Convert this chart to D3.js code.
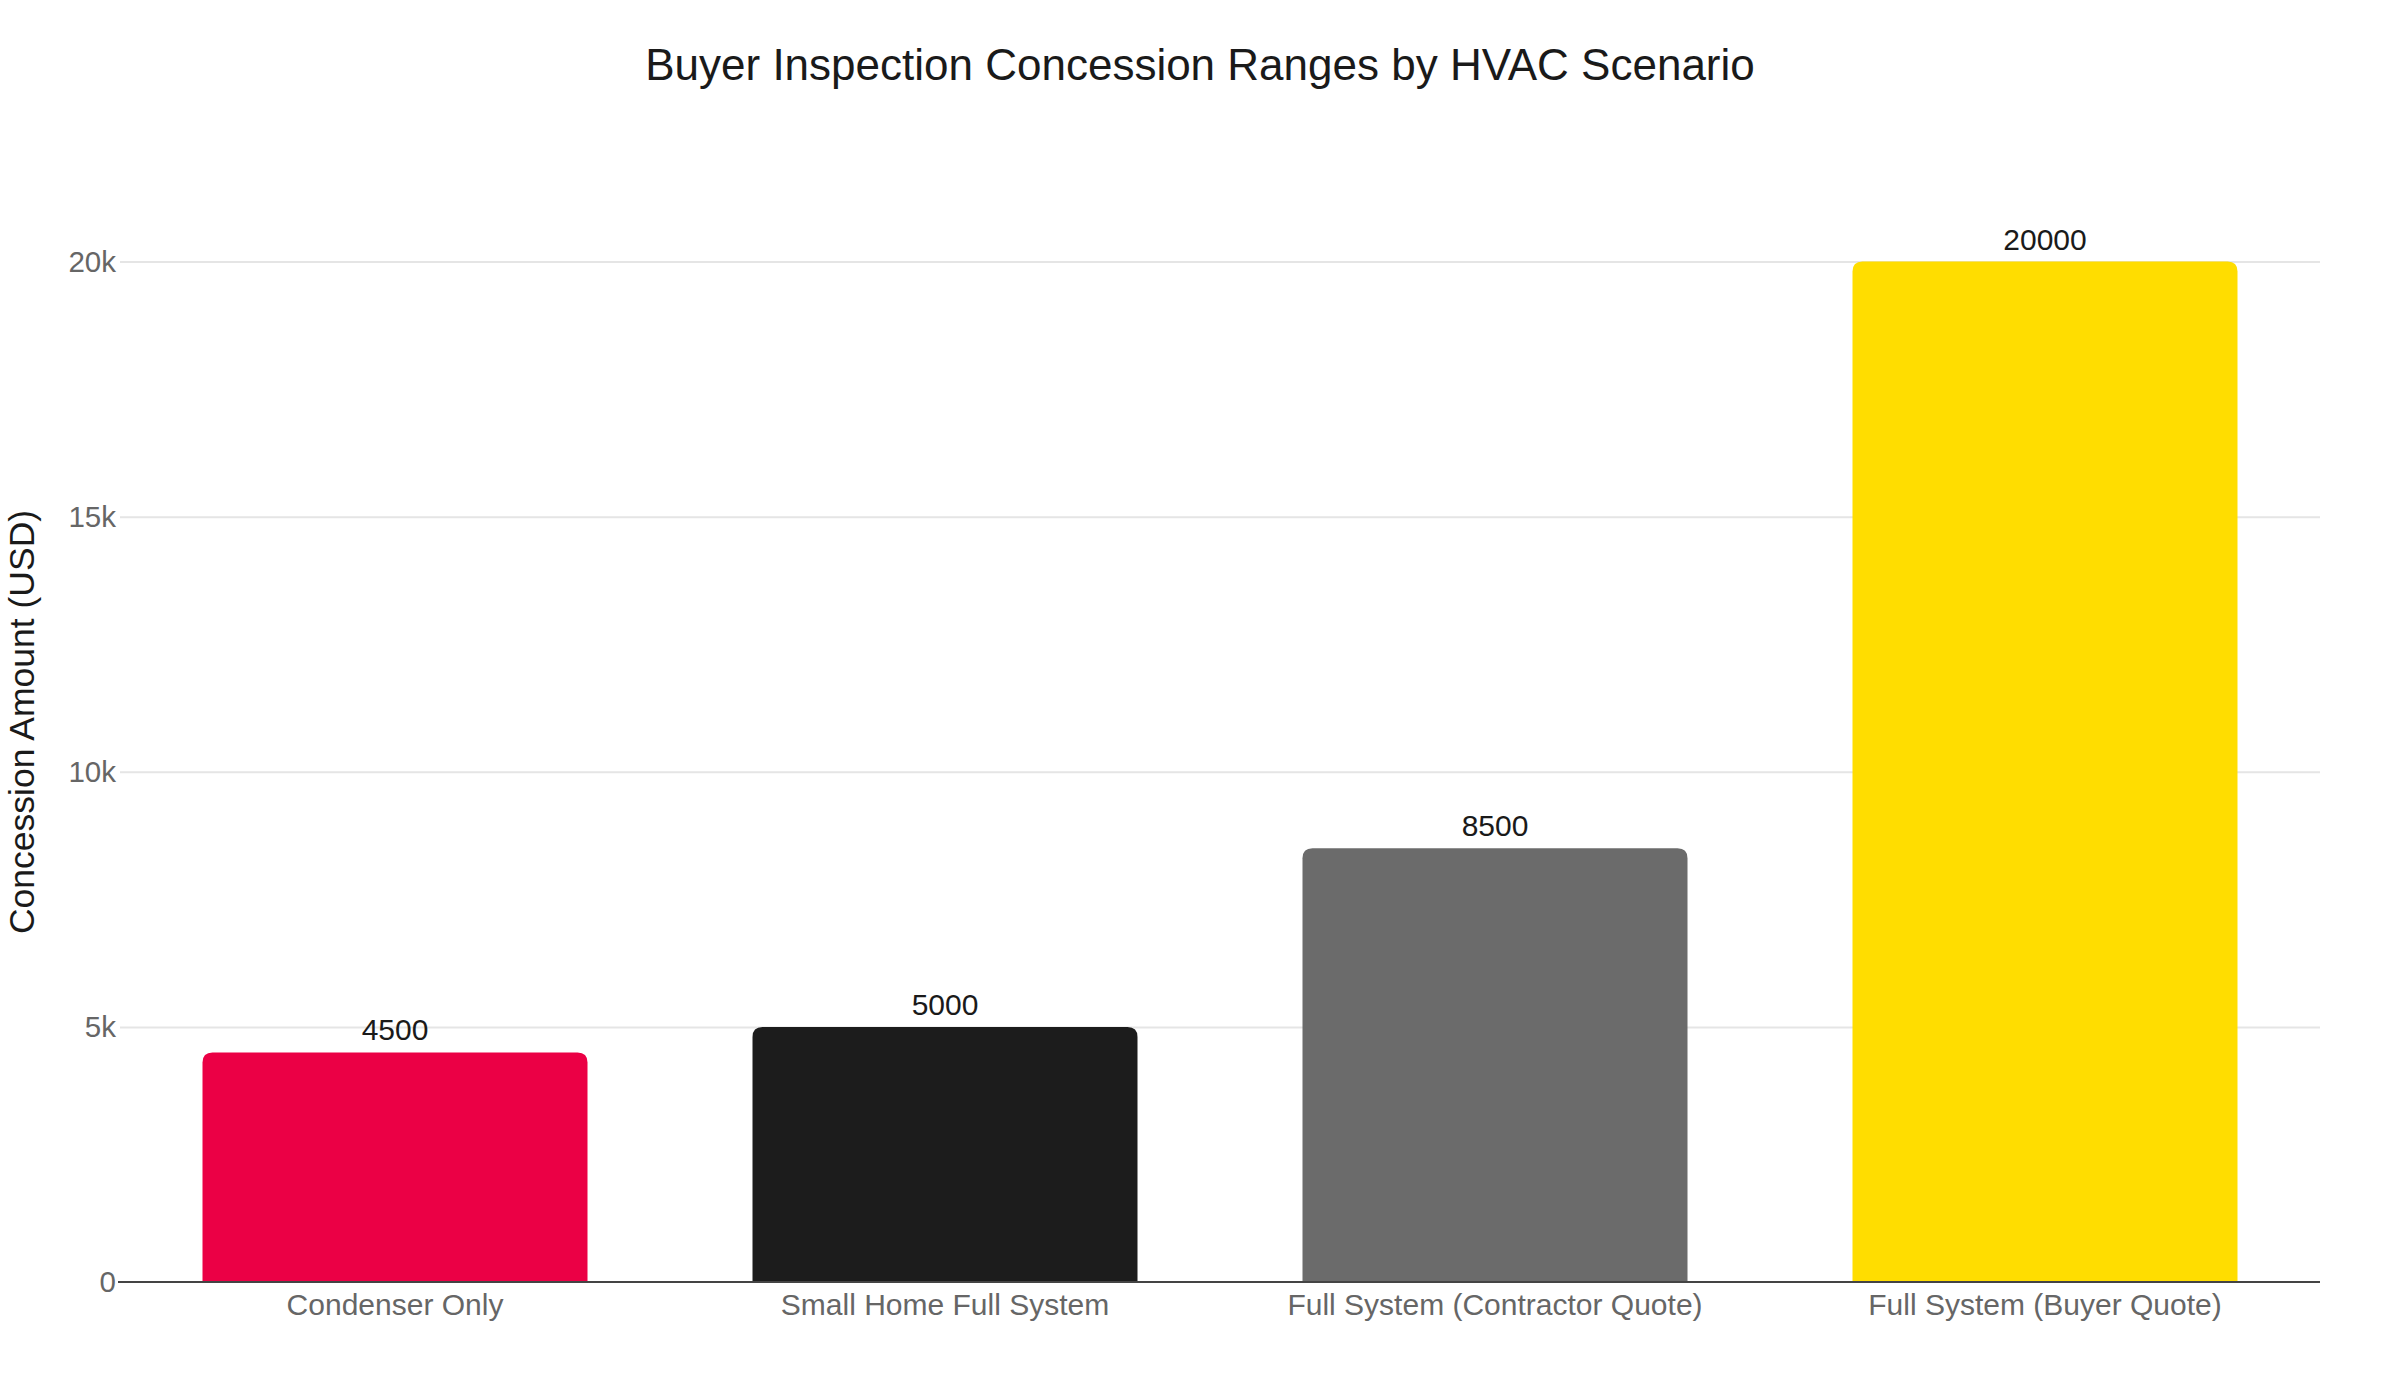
<!DOCTYPE html>
<html>
<head>
<meta charset="utf-8">
<script src="https://cdn.jsdelivr.net/npm/d3@7"></script>
<style>
  html, body { margin: 0; padding: 0; background: #fff; }
  text { font-family: "Liberation Sans", Arial, Helvetica, sans-serif; }
</style>
</head>
<body>
<div id="chart_div"></div>
<script>
// chart data
const categories = ["Condenser Only", "Small Home Full System", "Full System (Contractor Quote)", "Full System (Buyer Quote)"];
const amounts = [4500, 5000, 8500, 20000];
const barColors = ["#EB0045", "#1C1C1C", "#6B6B6B", "#FFDD00"];
const yTicks = [0, 5000, 10000, 15000, 20000];
const yTickLabels = ["0", "5k", "10k", "15k", "20k"];
const chartTitle = "Buyer Inspection Concession Ranges by HVAC Scenario";
const yTitle = "Concession Amount (USD)";

function draw_chart() {
  let set_width = 2400, set_height = 1400;
  var margin = {top: 208, right: 80, bottom: 118, left: 120},
    width = set_width - margin.left - margin.right,
    height = set_height - margin.top - margin.bottom;

  var svg = d3.select("#chart_div")
    .append("svg")
    .attr("width", set_width)
    .attr("height", set_height);

  svg.append("text")
    .attr("x", set_width / 2)
    .attr("y", 80)
    .attr("text-anchor", "middle")
    .attr("font-size", 44)
    .attr("fill", "#1a1a1a")
    .text(chartTitle);

  var chart = svg.append("g")
    .attr("transform", `translate(${margin.left},${margin.top})`);

  var xScale = d3.scaleBand()
    .domain(categories)
    .range([0, width])
    .paddingInner(0.3)
    .paddingOuter(0.15);

  var yScale = d3.scaleLinear()
    .domain([0, 21050])
    .range([height, 0]);

  // gridlines
  chart.append("g")
    .call(d3.axisLeft(yScale).tickValues(yTicks.slice(1)).tickSize(-width).tickFormat(""))
    .call(g => g.select(".domain").remove())
    .call(g => g.selectAll("line").attr("stroke", "#e5e5e5").attr("stroke-width", 2));

  // y tick labels
  chart.append("g")
    .call(d3.axisLeft(yScale).tickValues(yTicks).tickSize(0).tickPadding(4)
      .tickFormat((d, i) => yTickLabels[i]))
    .call(g => g.select(".domain").remove())
    .call(g => g.selectAll("text")
      .attr("font-size", 29.5)
      .attr("fill", "#666")
      .attr("font-family", "'Liberation Sans', Arial, Helvetica, sans-serif"));

  // bars with rounded tops
  const r = 10;
  chart.selectAll("path.bar")
    .data(amounts)
    .join("path")
    .attr("class", "bar")
    .attr("fill", (d, i) => barColors[i])
    .attr("d", (d, i) => {
      const x0 = xScale(categories[i]), x1 = x0 + xScale.bandwidth();
      const y0 = yScale(d), yb = yScale(0);
      return `M${x0},${yb} L${x0},${y0 + r} Q${x0},${y0} ${x0 + r},${y0} L${x1 - r},${y0} Q${x1},${y0} ${x1},${y0 + r} L${x1},${yb} Z`;
    });

  // zero line
  chart.append("line")
    .attr("x1", -2).attr("x2", width)
    .attr("y1", yScale(0)).attr("y2", yScale(0))
    .attr("stroke", "#444").attr("stroke-width", 2);

  // value labels
  chart.selectAll("text.val")
    .data(amounts)
    .join("text")
    .attr("class", "val")
    .attr("x", (d, i) => xScale(categories[i]) + xScale.bandwidth() / 2)
    .attr("y", d => yScale(d) - 12)
    .attr("text-anchor", "middle")
    .attr("font-size", 30)
    .attr("fill", "#1a1a1a")
    .text(d => d);

  // x axis labels
  chart.append("g")
    .attr("transform", "translate(0," + height + ")")
    .call(d3.axisBottom(xScale).tickSize(0).tickPadding(12))
    .call(g => g.select(".domain").remove())
    .call(g => g.selectAll("text")
      .attr("font-size", 30)
      .attr("fill", "#666")
      .attr("font-family", "'Liberation Sans', Arial, Helvetica, sans-serif"));

  // y axis title
  svg.append("text")
    .attr("transform", `translate(34,722) rotate(-90)`)
    .attr("text-anchor", "middle")
    .attr("font-size", 35.5)
    .attr("fill", "#1a1a1a")
    .text(yTitle);
}

draw_chart();
</script>
</body>
</html>
